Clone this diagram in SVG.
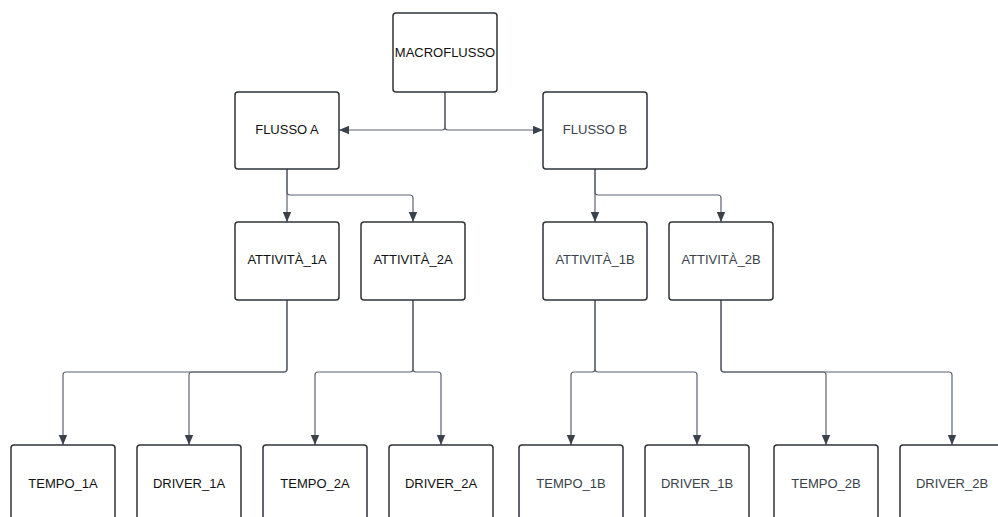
<svg xmlns="http://www.w3.org/2000/svg" width="998" height="517" viewBox="0 0 998 517">
  <style>
    .box { fill: #ffffff; stroke: #2f3338; stroke-width: 1.5; }
    .lbl { font-family: "Liberation Sans", Arial, sans-serif; font-size: 13px; text-anchor: middle; dominant-baseline: central; }
    .a { fill: #111111; }
    .b { fill: #3a414a; }
    .edge { fill: none; stroke: #5c6370; stroke-width: 1.2; marker-end: url(#arrow); }
  </style>
  <defs>
    <marker id="arrow" viewBox="0 0 10 10" refX="10" refY="5" markerWidth="10" markerHeight="10" markerUnits="userSpaceOnUse" orient="auto">
      <path d="M0,0.8 L10,5 L0,9.2 Z" fill="#3a414a"/>
    </marker>
  </defs>
  <rect width="998" height="517" fill="#ffffff"/>

  <g id="connectors">
    <!-- macroflusso to flussi -->
    <path class="edge" d="M445,92 V127 Q445,130 442,130 H339"/>
    <path class="edge" d="M445,92 V127 Q445,130 448,130 H543"/>
    <!-- flusso A to attività -->
    <path class="edge" d="M287,169 V222"/>
    <path class="edge" d="M287,169 V192 Q287,195 290,195 H410 Q413,195 413,198 V222"/>
    <!-- flusso B to attività -->
    <path class="edge" d="M595,169 V222"/>
    <path class="edge" d="M595,169 V192 Q595,195 598,195 H718 Q721,195 721,198 V222"/>
    <!-- attività 1A -->
    <path class="edge" d="M287,300 V369 Q287,372 284,372 H66 Q63,372 63,375 V445"/>
    <path class="edge" d="M287,300 V369 Q287,372 284,372 H192 Q189,372 189,375 V445"/>
    <!-- attività 2A -->
    <path class="edge" d="M413,300 V369 Q413,372 410,372 H318 Q315,372 315,375 V445"/>
    <path class="edge" d="M413,300 V369 Q413,372 416,372 H438 Q441,372 441,375 V445"/>
    <!-- attività 1B -->
    <path class="edge" d="M595,300 V369 Q595,372 592,372 H574 Q571,372 571,375 V445"/>
    <path class="edge" d="M595,300 V369 Q595,372 598,372 H694 Q697,372 697,375 V445"/>
    <!-- attività 2B -->
    <path class="edge" d="M721,300 V369 Q721,372 724,372 H823 Q826,372 826,375 V445"/>
    <path class="edge" d="M721,300 V369 Q721,372 724,372 H949 Q952,372 952,375 V445"/>
  </g>

  <g id="macroflusso">
    <rect class="box" x="393" y="13" width="104" height="79" rx="3"/>
    <text class="lbl a" x="445" y="52">MACROFLUSSO</text>
  </g>

  <g id="flusso-a">
    <rect class="box" x="235" y="92" width="104" height="77" rx="3"/>
    <text class="lbl a" x="287" y="129">FLUSSO A</text>
  </g>
  <g id="flusso-b">
    <rect class="box" x="543" y="92" width="104" height="77" rx="3"/>
    <text class="lbl b" x="595" y="129">FLUSSO B</text>
  </g>

  <g id="attivita-1a">
    <rect class="box" x="235" y="222" width="104" height="78" rx="3"/>
    <text class="lbl a" x="287" y="259">ATTIVITÀ_1A</text>
  </g>
  <g id="attivita-2a">
    <rect class="box" x="361" y="222" width="104" height="78" rx="3"/>
    <text class="lbl a" x="413" y="259">ATTIVITÀ_2A</text>
  </g>
  <g id="attivita-1b">
    <rect class="box" x="543" y="222" width="104" height="78" rx="3"/>
    <text class="lbl b" x="595" y="259">ATTIVITÀ_1B</text>
  </g>
  <g id="attivita-2b">
    <rect class="box" x="669" y="222" width="104" height="78" rx="3"/>
    <text class="lbl b" x="721" y="259">ATTIVITÀ_2B</text>
  </g>

  <g id="tempo-1a">
    <rect class="box" x="11" y="445" width="104" height="80" rx="3"/>
    <text class="lbl a" x="63" y="483">TEMPO_1A</text>
  </g>
  <g id="driver-1a">
    <rect class="box" x="137" y="445" width="104" height="80" rx="3"/>
    <text class="lbl a" x="189" y="483">DRIVER_1A</text>
  </g>
  <g id="tempo-2a">
    <rect class="box" x="263" y="445" width="104" height="80" rx="3"/>
    <text class="lbl a" x="315" y="483">TEMPO_2A</text>
  </g>
  <g id="driver-2a">
    <rect class="box" x="389" y="445" width="104" height="80" rx="3"/>
    <text class="lbl a" x="441" y="483">DRIVER_2A</text>
  </g>
  <g id="tempo-1b">
    <rect class="box" x="519" y="445" width="104" height="80" rx="3"/>
    <text class="lbl b" x="571" y="483">TEMPO_1B</text>
  </g>
  <g id="driver-1b">
    <rect class="box" x="645" y="445" width="104" height="80" rx="3"/>
    <text class="lbl b" x="697" y="483">DRIVER_1B</text>
  </g>
  <g id="tempo-2b">
    <rect class="box" x="774" y="445" width="104" height="80" rx="3"/>
    <text class="lbl b" x="826" y="483">TEMPO_2B</text>
  </g>
  <g id="driver-2b">
    <rect class="box" x="900" y="445" width="104" height="80" rx="3"/>
    <text class="lbl b" x="952" y="483">DRIVER_2B</text>
  </g>
</svg>
